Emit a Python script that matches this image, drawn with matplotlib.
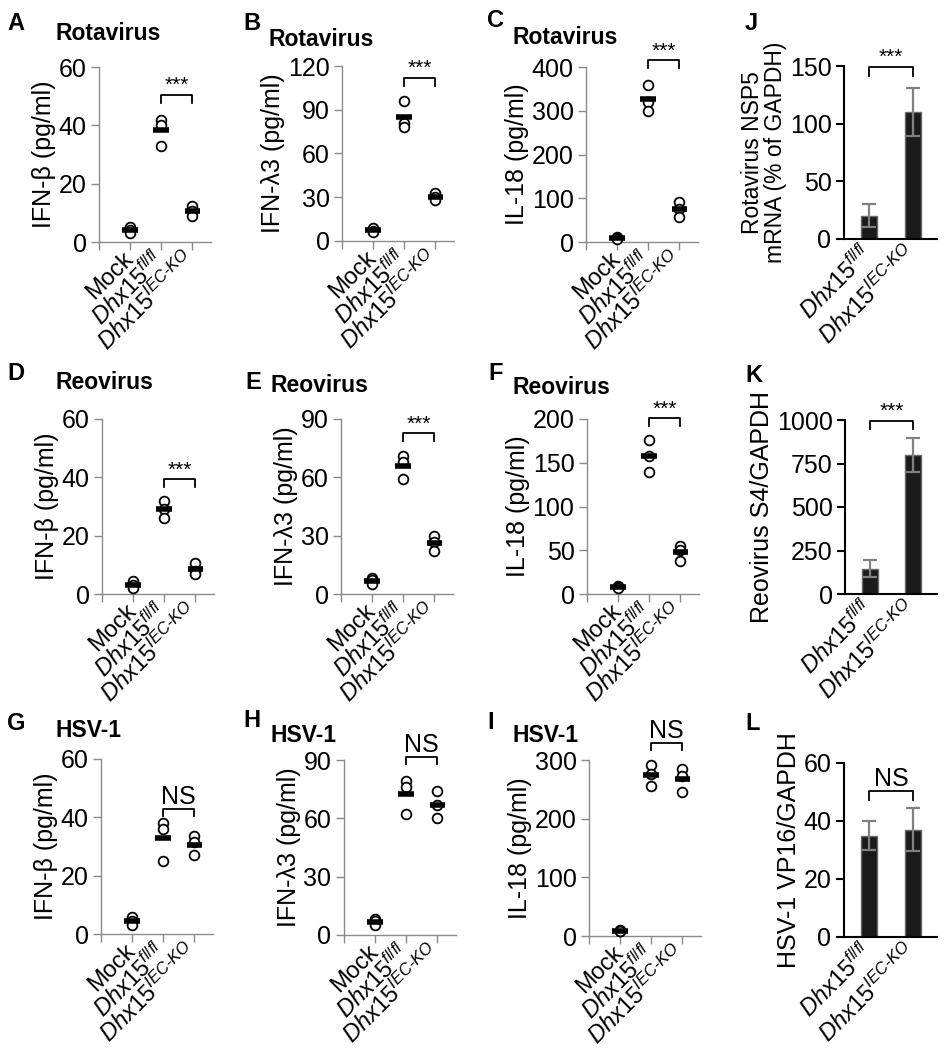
import matplotlib
matplotlib.use('Agg')
import matplotlib.pyplot as plt
import numpy as np

plt.rcParams['font.family'] = ['Liberation Sans', 'DejaVu Sans']
plt.rcParams['mathtext.fontset'] = 'custom'
plt.rcParams['mathtext.rm'] = 'Liberation Sans'
plt.rcParams['mathtext.it'] = 'Liberation Sans:italic'
plt.rcParams['mathtext.bf'] = 'Liberation Sans:bold'

W, H = 947, 1050  # figure size in pixels

FL = r'$\mathit{Dhx15}^{\mathit{fl/fl}}$'
KO = r'$\mathit{Dhx15}^{\mathit{IEC\text{-}KO}}$'
groups3 = ['Mock', FL, KO]
groups2 = [FL, KO]

# dot plots: 3 mice per group (Mock, fl/fl, IEC-KO)
rota_ifnb = [[5, 4, 3], [42, 40, 33], [12.5, 10.5, 9]]
rota_ifnl3 = [[9, 7, 6], [96, 81, 78], [33, 30, 28]]
rota_il18 = [[12, 10, 8], [358, 320, 300], [92, 75, 57]]
reo_ifnb = [[4.5, 3, 2], [32, 29, 26], [10.5, 8, 7]]
reo_ifnl3 = [[8, 7, 5], [71, 68, 59], [30, 27, 22]]
reo_il18 = [[9, 8, 7], [176, 158, 140], [55, 50, 38]]
hsv_ifnb = [[6, 4.5, 3], [38, 36, 25], [33.5, 31.5, 27]]
hsv_ifnl3 = [[8, 7, 5], [79, 76, 62], [74, 67, 60]]
hsv_il18 = [[11, 9, 8], [292, 276, 256], [285, 272, 245]]

# bar plots: mean and error (fl/fl, IEC-KO)
rota_nsp5 = [20, 110]
rota_nsp5_err = [10, 21]
reo_s4 = [145, 800]
reo_s4_err = [48, 97]
hsv_vp16 = [35, 37]
hsv_vp16_err = [5, 7.5]

GRAY = '#8a8a8a'
TICK_FS = 18
XLAB_FS = 17

fig = plt.figure(figsize=(W / 100, H / 100), dpi=100)


def add_ax(left, top, right, bottom):
    # pixel box -> figure fractions
    return fig.add_axes([left / W, 1 - bottom / H, (right - left) / W, (bottom - top) / H])


def bracket(ax, x1, x2, y, drop, label, size):
    ax.plot([x1, x1, x2, x2], [y - drop, y, y, y - drop], color='black', lw=1.3, clip_on=False)
    ax.text((x1 + x2) / 2, y, label, ha='center', va='bottom', fontsize=size)


def dot_panel(box, data, yticks, ylabel, sig, sig_y):
    ax = add_ax(*box)
    for i, vals in enumerate(data):
        x = i + 1
        ax.plot([x] * len(vals), vals, 'o', ms=7, mfc='white', mec='black', mew=1.3,
                zorder=3, clip_on=False)
        ax.hlines(np.mean(vals), x - 0.25, x + 0.25, color='black', lw=4, zorder=4)
    ax.set_xlim(0, 3.6)
    ax.set_ylim(0, yticks[-1])
    ax.set_yticks(yticks)
    ax.set_xticks([0, 1, 2, 3])
    ax.set_xticklabels([''] + groups3, rotation=45, ha='right', va='center',
                       rotation_mode='anchor', fontsize=XLAB_FS)
    for s in ['top', 'right']:
        ax.spines[s].set_visible(False)
    for s in ['left', 'bottom']:
        ax.spines[s].set_color(GRAY)
        ax.spines[s].set_linewidth(1)
    ax.tick_params(axis='both', colors=GRAY, labelcolor='black', length=6, width=1)
    ax.tick_params(axis='y', labelsize=TICK_FS, pad=3)
    ax.tick_params(axis='x', pad=4)
    ax.set_ylabel(ylabel, fontsize=TICK_FS, labelpad=2)
    top = yticks[-1]
    drop = 0.045 * top if sig == '***' else 0.04 * top
    bracket(ax, 2, 3, sig_y, drop, sig, 15 if sig == '***' else 18)
    return ax


def bar_panel(box, means, errs, yticks, ylabel, sig, sig_y, label_fs=TICK_FS):
    ax = add_ax(*box)
    ax.bar([1, 2], means, width=0.36, color='#1a1a1a', edgecolor='#6a6a6a', lw=1, zorder=2)
    ax.errorbar([1, 2], means, yerr=errs, fmt='none', ecolor='#808080', elinewidth=1.6,
                capsize=5, capthick=1.6, zorder=3)
    ax.set_xlim(0.43, 2.55)
    ax.set_ylim(0, yticks[-1])
    ax.set_yticks(yticks)
    ax.set_xticks([1, 2])
    ax.set_xticklabels(groups2, rotation=45, ha='right', va='center',
                       rotation_mode='anchor', fontsize=XLAB_FS)
    for s in ['top', 'right']:
        ax.spines[s].set_visible(False)
    for s in ['left', 'bottom']:
        ax.spines[s].set_linewidth(1.5)
    ax.tick_params(axis='y', labelsize=TICK_FS, length=6, width=1.5, pad=3)
    ax.tick_params(axis='x', length=0, pad=8)
    ax.set_ylabel(ylabel, fontsize=label_fs, labelpad=2, linespacing=1.0)
    top = yticks[-1]
    bracket(ax, 1, 2, sig_y, 0.05 * top, sig, 15 if sig == '***' else 18)
    return ax


ifnb = 'IFN-β (pg/ml)'
ifnl = 'IFN-λ3 (pg/ml)'
il18 = 'IL-18 (pg/ml)'

# row 1: rotavirus
dot_panel((99, 67, 211, 242), rota_ifnb, [0, 20, 40, 60], ifnb, '***', 50.5)
dot_panel((342, 66, 454, 241), rota_ifnl3, [0, 30, 60, 90, 120], ifnl, '***', 112)
dot_panel((586, 67, 698, 242), rota_il18, [0, 100, 200, 300, 400], il18, '***', 415)
bar_panel((844, 66, 937, 239), rota_nsp5, rota_nsp5_err, [0, 50, 100, 150],
          'Rotavirus NSP5\nmRNA (% of GAPDH)', '***', 149, label_fs=16.5)

# row 2: reovirus
dot_panel((102, 419, 214, 594), reo_ifnb, [0, 20, 40, 60], ifnb, '***', 39.3)
dot_panel((341, 419, 453, 594), reo_ifnl3, [0, 30, 60, 90], ifnl, '***', 82.6)
dot_panel((587, 419, 699, 594), reo_il18, [0, 50, 100, 150, 200], il18, '***', 200.7)
bar_panel((845, 420, 937, 594), reo_s4, reo_s4_err, [0, 250, 500, 750, 1000],
          'Reovirus S4/GAPDH', '***', 996)

# row 3: HSV-1
dot_panel((101, 759, 213, 934), hsv_ifnb, [0, 20, 40, 60], ifnb, 'NS', 42.9)
dot_panel((344, 760, 456, 935), hsv_ifnl3, [0, 30, 60, 90], ifnl, 'NS', 91.4)
dot_panel((589, 760, 701, 936), hsv_il18, [0, 100, 200, 300], il18, 'NS', 329.5)
bar_panel((844, 763, 937, 937), hsv_vp16, hsv_vp16_err, [0, 20, 40, 60],
          'HSV-1 VP16/GAPDH', 'NS', 50.4)

# panel letters and virus titles (pixel positions of top edges)
letters = [('A', 7, 12), ('B', 243, 12), ('C', 487, 9), ('J', 745, 12),
           ('D', 7, 362), ('E', 245, 371), ('F', 488, 362), ('K', 745, 364),
           ('G', 7, 712), ('H', 243, 709), ('I', 487, 711), ('L', 745, 712)]
for lab, x, y in letters:
    fig.text(x / W, 1 - y / H, lab, fontsize=17, fontweight='bold', ha='left', va='top')

titles = [('Rotavirus', 55, 22), ('Rotavirus', 269, 28), ('Rotavirus', 512, 26),
          ('Reovirus', 55, 371), ('Reovirus', 270, 374), ('Reovirus', 513, 376),
          ('HSV-1', 55, 719), ('HSV-1', 270, 724), ('HSV-1', 513, 724)]
for t, x, y in titles:
    fig.text(x / W, 1 - y / H, t, fontsize=16.5, fontweight='bold', ha='left', va='top')

fig.savefig('out.png', dpi=100)
